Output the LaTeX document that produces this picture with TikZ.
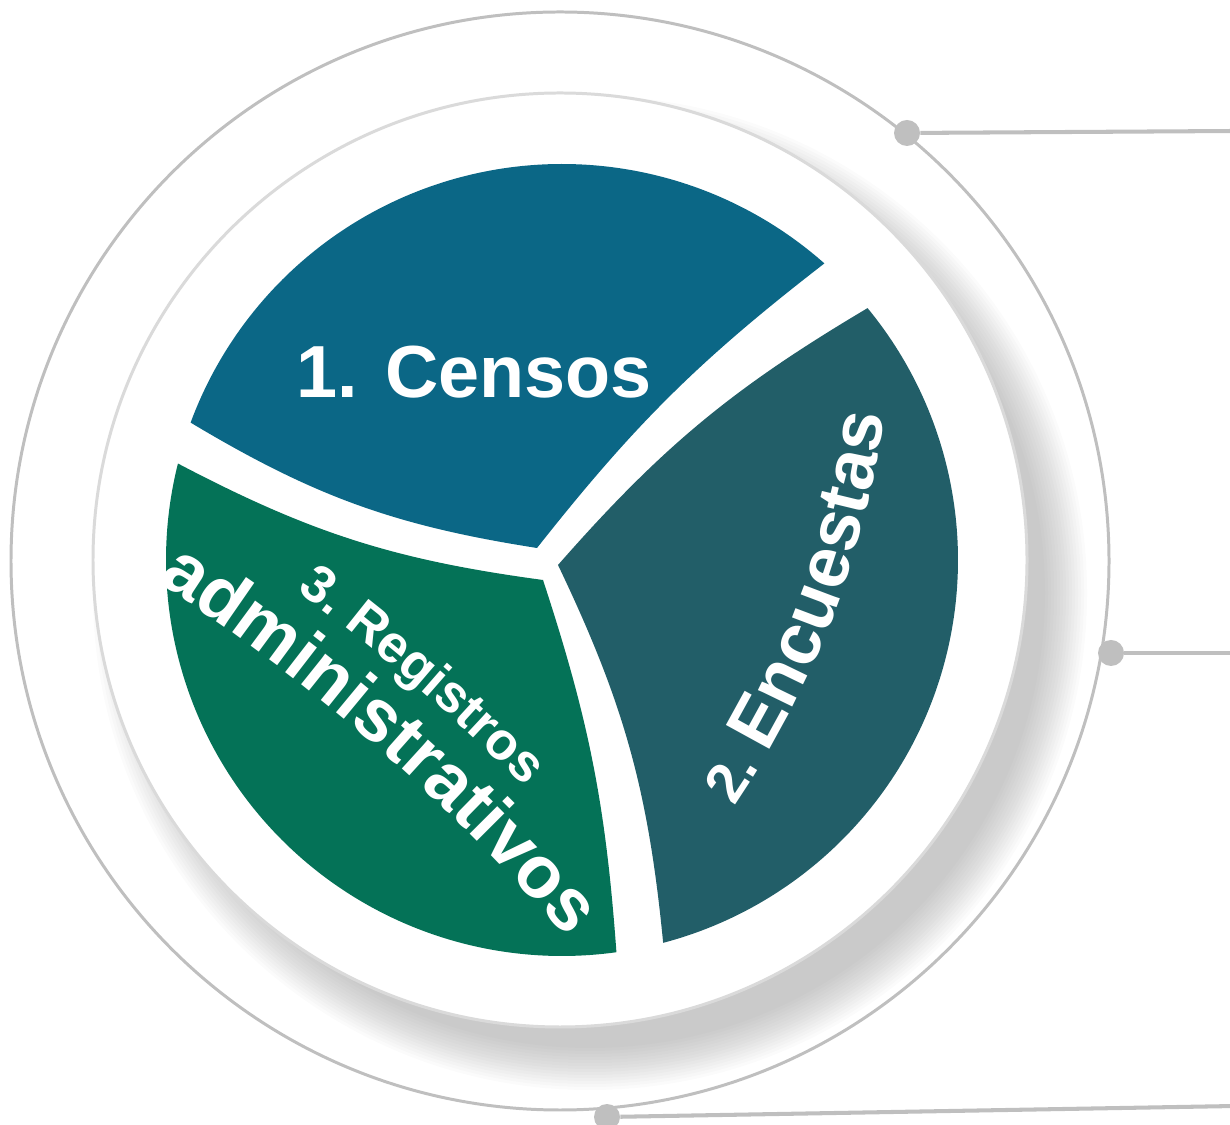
\documentclass[tikz,border=0pt]{standalone}
\usepackage{fontspec}
\setmainfont{Liberation Sans}
\usepackage{tikz}
\usetikzlibrary{calc,decorations.text,positioning}
\definecolor{censos}{HTML}{0B6786}
\definecolor{encuestas}{HTML}{225E68}
\definecolor{registros}{HTML}{047257}
\definecolor{ringgrey}{HTML}{BFBFBF}
\definecolor{discgrey}{HTML}{DADADA}

\begin{document}
\begin{tikzpicture}[x=0.02cm,y=0.02cm]

\tikzset{dotnode/.style={circle,fill=ringgrey,inner sep=0pt,minimum size=0.52cm},
wire/.style={draw=ringgrey,line width=2.3pt},
sectortext/.style={text=white,inner sep=0pt}}

\useasboundingbox (0,0) rectangle (1230,1125);

% centres and corners
\coordinate (disc) at (560,565);
\coordinate (pie) at (562,565);
\coordinate (vB) at (537,577);
\coordinate (vT) at (558,560);
\coordinate (vG) at (543,545);

% Shadow
\foreach \i in {0,...,14} \fill[black,opacity=0.015] (590,532) circle (497-3*\i);

% Rings
\draw[ringgrey,line width=1.7pt] (560,564) circle (549);
\draw[discgrey,fill=white,line width=1.7pt] (disc) circle (467);

% Sectors
\fill[censos] (vB) to[bend left=7] ($(pie)+(48.5:396)$) arc[start angle=48.5,end angle=159.7,radius=396] to[bend right=11] (vB) -- cycle;
\fill[encuestas] (vT) to[bend left=10] ($(pie)+(-75.2:396)$) arc[start angle=-75.2,end angle=39.5,radius=396] to[bend right=9] (vT) -- cycle;
\fill[registros] (vG) to[bend left=10] ($(pie)+(165.9:396)$) arc[start angle=165.9,end angle=277.9,radius=396] to[bend right=7] (vG) -- cycle;

% Texts
\node[sectortext,font=\fontsize{42}{50}\selectfont\bfseries,anchor=base] (censos) at (474,727) {1. Censos};
\coordinate (ec) at (-26,835);
\path[decorate,decoration={text along path,text align=center,text color=white,
  text={|\fontsize{32}{38}\selectfont\bfseries|2. |\fontsize{41}{48}\selectfont\bfseries|Encuestas}}]
  ($(ec)+(-37:919)$) arc[start angle=-37,end angle=-5,radius=919];
\coordinate (arch) at (-878,-1062);
\path[decorate,decoration={text along path,text align=center,text color=white,
  text={|\fontsize{30}{36}\selectfont\bfseries|3. Registros}}]
  ($(arch)+(55.5:1982)$) arc[start angle=55.5,end angle=43.1,radius=1982];
\path[decorate,decoration={text along path,text align=center,text color=white,
  text={|\fontsize{42}{50}\selectfont\bfseries|administrativos}}]
  ($(arch)+(59:1910)$) arc[start angle=59,end angle=39,radius=1910];

% Connectors
\node[dotnode] (d1) at (907,992) {};
\node[dotnode] (d2) at (1111,472) {};
\node[dotnode] (d3) at (607,8) {};
\coordinate (e1) at (1235,994);
\coordinate (e2) at (1235,472);
\coordinate (e3) at (1235,19);
\foreach \x in {1,2,3} \draw[wire] (d\x) -- (e\x);

\end{tikzpicture}
\end{document}
